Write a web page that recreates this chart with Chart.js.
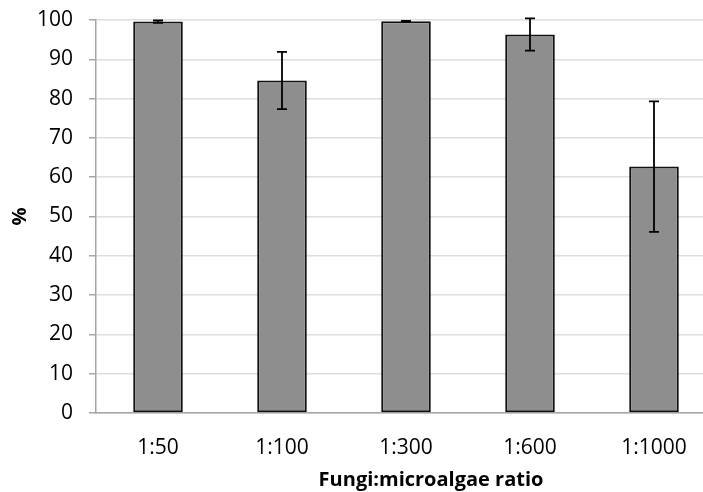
<!DOCTYPE html>
<html><head><meta charset="utf-8">
<script src="https://cdn.jsdelivr.net/npm/chart.js@4"></script>
<style>html,body{margin:0;padding:0;overflow:hidden;background:#fff}#wrap{width:718px;height:492px}</style>
</head><body><div id="wrap"><canvas id="c" width="718" height="492"></canvas></div>
<script>
const categories = ['1:50', '1:100', '1:300', '1:600', '1:1000'];
const values = [99.6, 84.6, 99.7, 96.3, 62.7];
const errors = [0.3, 7.3, 0.1, 4.1, 16.6];
const yMin = 0, yMax = 100, yStep = 10;
const xTitle = 'Fungi:microalgae ratio';
const yTitle = '%';

const FONT = '"Open Sans", "Liberation Sans", sans-serif';

const errorBars = {
  id: 'errorBars',
  afterDatasetsDraw(chart) {
    const ctx = chart.ctx, y = chart.scales.y;
    const meta = chart.getDatasetMeta(0);
    ctx.save();
    ctx.strokeStyle = '#000';
    ctx.lineWidth = 1.8;
    meta.data.forEach((bar, i) => {
      const top = y.getPixelForValue(values[i] + errors[i]);
      const bot = y.getPixelForValue(values[i] - errors[i]);
      const x = bar.x, cap = 5;
      ctx.beginPath();
      ctx.moveTo(x, top); ctx.lineTo(x, bot);
      ctx.moveTo(x - cap, top); ctx.lineTo(x + cap, top);
      ctx.moveTo(x - cap, bot); ctx.lineTo(x + cap, bot);
      ctx.stroke();
    });
    ctx.restore();
  }
};

const xTitlePlugin = {
  id: 'xTitlePlugin',
  afterDraw(chart) {
    const ctx = chart.ctx;
    ctx.save();
    ctx.font = 'bold 20px ' + FONT;
    ctx.fillStyle = '#000';
    ctx.textAlign = 'center';
    ctx.textBaseline = 'middle';
    ctx.fillText(xTitle, 431, 480);
    ctx.restore();
  }
};

new Chart(document.getElementById('c'), {
  type: 'bar',
  data: {
    labels: categories,
    datasets: [{
      data: values,
      backgroundColor: '#8e8e8e',
      borderColor: '#111',
      borderWidth: 2,
      borderSkipped: false,
      barPercentage: 0.4,
      categoryPercentage: 1.0
    }]
  },
  options: {
    responsive: false,
    animation: false,
    devicePixelRatio: 1,
    layout: { padding: { top: 20, right: 2, left: 0, bottom: 0 } },
    plugins: { legend: { display: false }, tooltip: { enabled: false } },
    scales: {
      x: {
        grid: { display: false },
        border: { display: true, color: '#a6a6a6', width: 1.5 },
        ticks: { color: '#000', font: { family: FONT, size: 21 }, padding: 14, maxRotation: 0 },
        afterFit(scale) { scale.height = 79; }
      },
      y: {
        min: yMin, max: yMax,
        ticks: { stepSize: yStep, color: '#000', font: { family: FONT, size: 21 }, padding: 16 },
        grid: { color: '#dedede', lineWidth: 1.5, tickLength: 7, tickColor: '#a6a6a6', tickWidth: 1.5 },
        border: { display: true, color: '#a6a6a6', width: 1.5 },
        title: { display: true, text: yTitle, color: '#000', font: { family: FONT, size: 20, weight: 'bold' }, padding: { top: 8, bottom: 0 } },
        afterFit(scale) { scale.width = 96; scale.paddingTop = 0; scale.paddingBottom = 0; }
      }
    }
  },
  plugins: [errorBars, xTitlePlugin]
});
</script>
</body></html>
